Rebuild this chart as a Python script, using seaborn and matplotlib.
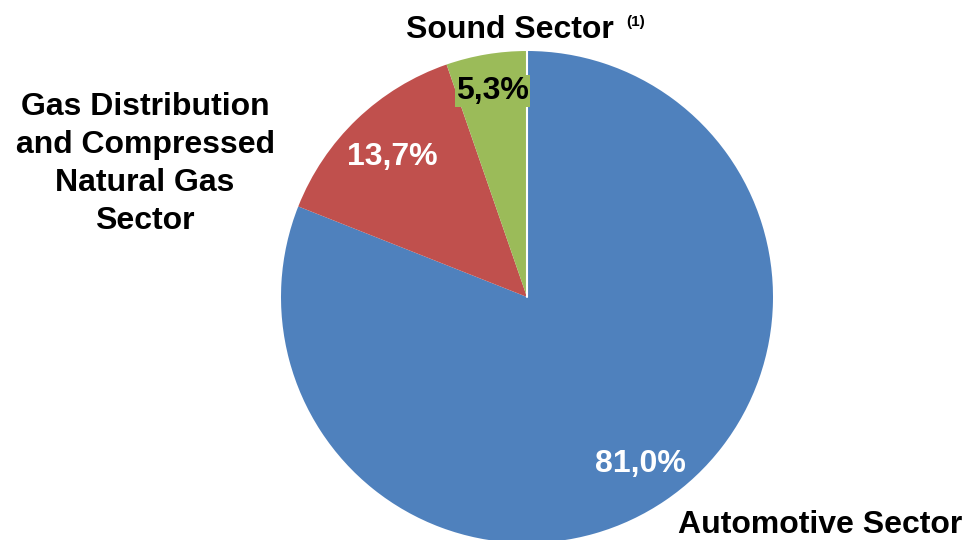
import matplotlib.pyplot as plt
import numpy as np
import seaborn as sns

sectors = ["Automotive Sector", "Gas Distribution\nand Compressed\nNatural Gas\nSector", "Sound Sector"]
shares = [81.0, 13.7, 5.3]
colors = ["#4F81BD", "#C0504D", "#9BBB59"]
pct_colors = ["white", "white", "black"]
pct_dist = [0.82, 0.79, 0.85]


def fmt_pct(v: float) -> str:
    return f"{v:.1f}".replace(".", ",") + "%"


sns.set_theme(style="white")
plt.rcParams["font.family"] = ["Liberation Sans", "DejaVu Sans"]
plt.rcParams["text.color"] = "black"

fig = plt.figure(figsize=(9.63, 5.4), dpi=100)
ax = fig.add_axes([0, 0, 1, 1])

cx, cy, r = 527, 243, 246
wedges, _ = ax.pie(
    shares,
    colors=colors,
    startangle=90,
    counterclock=False,
    center=(cx, cy),
    radius=r,
    wedgeprops=dict(linewidth=0),
    frame=True,
)
ax.set_xlim(0, 963)
ax.set_ylim(0, 540)
ax.axis("off")

# thin white split at the top between green and blue
ax.plot([cx, cx], [cy, cy + r], color="white", lw=1.5, zorder=3)

for w, v, c, d in zip(wedges, shares, pct_colors, pct_dist):
    mid = np.deg2rad((w.theta1 + w.theta2) / 2)
    x = cx + d * r * np.cos(mid)
    y = cy + d * r * np.sin(mid)
    box = None
    if c == "black":
        box = dict(facecolor=colors[2], edgecolor="none", pad=1)
    ax.text(x, y, fmt_pct(v), color=c, fontsize=23, fontweight="bold",
            ha="center", va="center", bbox=box, zorder=4)

# outside labels
ax.text(820, 15, sectors[0], fontsize=23, fontweight="bold", ha="center", va="center")
ax.text(145, 376, sectors[1], fontsize=23, fontweight="bold", ha="center", va="center",
        linespacing=1.35)
ax.text(510, 510, sectors[2], fontsize=23, fontweight="bold", ha="center", va="center")
ax.text(636, 518, "(1)", fontsize=11, fontweight="bold", ha="center", va="center")

plt.savefig("out.png", dpi=100)
